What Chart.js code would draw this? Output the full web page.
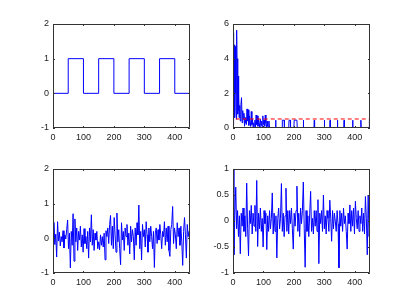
<!DOCTYPE html>
<html lang="en">
<head>
  <meta charset="UTF-8">
  <title>Subplots</title>
  <style>
    body { margin: 0; background: #fff; overflow: hidden; }
    canvas { position: absolute; }
  </style>
</head>
<body>
  <canvas id="waveChart" width="187" height="134" style="left:13px;top:14px"></canvas>
  <canvas id="specChart" width="187" height="134" style="left:193px;top:14px"></canvas>
  <canvas id="noiseChartA" width="187" height="134" style="left:13px;top:159px"></canvas>
  <canvas id="noiseChartB" width="187" height="134" style="left:193px;top:159px"></canvas>
  <script src="https://cdn.jsdelivr.net/npm/chart.js"></script>
  <script>
    // tick labels
    const xTicks = [0, 100, 200, 300, 400];
    const yTicksWave = [-1, 0, 1, 2];
    const yTicksSpec = [0, 2, 4, 6];
    const yTicksNoiseA = [-1, 0, 1, 2];
    const yTicksNoiseB = [-1, -0.5, 0, 0.5, 1];

    // square wave (stepped)
    const waveX = [0, 50, 100, 150, 200, 250, 300, 350, 400, 450];
    const waveY = [0, 1, 0, 1, 0, 1, 0, 1, 0, 0];

    // spectrum + threshold
    const specX = [0, 1, 2, 3, 4, 5, 6, 7, 8, 9, 10, 11, 12, 13, 14, 15, 16, 17, 18, 19,
      20, 22, 24, 26, 28, 30, 32, 34, 36, 38,
      40, 42, 44, 46, 48, 50, 52, 54, 56, 58, 60, 62, 64, 66, 68, 70, 72, 74, 76, 78,
      80, 82, 84, 86, 88, 90, 92, 94, 96, 98, 100, 102, 104, 106, 108, 110, 112, 114, 116, 118,
      120, 140, 140, 141, 161, 162, 168, 169, 183, 184, 188, 189, 200, 201, 210, 211,
      230, 231, 232, 266, 267, 268, 299, 300, 301, 318, 319, 320, 342, 343, 344,
      364, 365, 366, 392, 393, 394, 419, 420, 421, 447, 448, 450];
    const specY = [0.2, 5.5, 0.8, 4.7, 1.5, 4.8, 0.6, 4.7, 2.0, 4.6, 1.0, 4.8, 0.5, 5.65, 2.5, 4.0, 0.8, 3.0, 1.0, 2.0,
      0.6, 1.3, 0.4, 1.35, 1.75, 0.3, 1.0, 0.5, 0.85, 0.1,
      0.6, 0.3, 0.2, 1.1, 0.4, 1.05, 0.15, 0.7, 0.3, 0.1, 0.95, 0.2, 0.5, 0.05, 0.3, 0.1, 0.45, 0.05, 0.75, 0.2,
      0.7, 0.1, 0.55, 0.25, 0.05, 0.5, 0.15, 0.4, 0.05, 0.7, 0.2, 0.45, 0.1, 0.75, 0.3, 0.05, 0.4, 0.1, 0.05, 0.4,
      0, 0, 0.45, 0, 0, 0.45, 0.45, 0, 0, 0.45, 0.45, 0, 0, 0.45, 0.45, 0,
      0, 0.45, 0, 0, 0.45, 0, 0, 0.45, 0, 0, 0.45, 0, 0, 0.45, 0,
      0, 0.45, 0, 0, 0.45, 0, 0, 0.45, 0, 0, 0.45, 0.45];
    const threshX = [9, 450];
    const threshY = [0.52, 0.52];

    // noise signals, one sample every 3 units
    const noiseStep = 3;
    const noiseA = [
      -0.15, 0.46, -0.18, 0.12, -0.54, 0.48, -0.08, 0.18, -0.22, 0.05,
      -0.1, 0.22, -0.28, 0.1, -0.02, 0.25, 0.53, -0.3, 0.15, -0.85,
      0.2, -0.2, 0.71, -0.66, 0.56, -0.1, 0.3, -0.35, 0.2, -0.05,
      0.35, -0.25, 0.1, -0.4, 0.28, -0.15, 0.05, -0.3, 0.2, -0.57,
      0.3, -0.1, 0.68, -0.2, 0.25, -0.35, 0.15, -0.05, 0.2, -0.3,
      -0.1, -0.33, 0.1, -0.2, 0.05, -0.25, 0.15, -0.62, 0.22, 0.05,
      0.3, -0.15, 0.4, 0.66, -0.2, 0.35, -0.3, 0.6, 0.1, -0.4,
      0.73, -0.1, 0.25, -0.3, -0.76, 0.45, -0.05, 0.2, -0.35, 0.3,
      0.05, 0.4, -0.2, 0.15, -0.45, 0.35, -0.1, 0.25, 0.05, -0.62,
      0.3, -0.2, 0.45, 0.1, 0.96, -0.3, 0.2, -0.62, 0.4, 0.05,
      0.25, -0.25, 0.48, 0.1, -0.4, 0.3, -0.1, 0.35, 0.05, -0.3,
      0.2, -0.84, 0.15, 0.3, -0.15, 0.25, -0.05, 0.4, 0.1, -0.3,
      0.2, 0.05, 0.48, -0.2, 0.3, -0.1, 0.35, -0.35, -0.52, 0.25,
      0.4, 0.92, -0.15, 0.3, 0.1, -0.3, 0.45, 0.05, 0.3, -0.2,
      0.35, -0.1, -0.78, 0.2, 0.6, 0.1, -0.57, 0.4, 0.05, 0.2,
      -0.36];
    const noiseB = [
      1.0, -0.65, 0.1, 0.65, -0.15, 0.2, -0.3, 0.1, -0.63, 0.15,
      -0.1, 0.25, -0.2, 0.1, -0.3, 0.73, -0.15, -0.67, 0.2, -0.05,
      0.3, -0.25, 0.15, -0.1, 0.3, -0.2, 0.78, -0.49, 0.15, -0.15,
      0.25, -0.2, 0.05, -0.5, 0.2, -0.05, 0.15, -0.55, 0.1, -0.2,
      0.2, -0.15, 0.05, 0.54, -0.25, 0.15, -0.2, 0.1, -0.71, 0.05,
      0.25, -0.15, 0.05, 0.72, -0.2, 0.15, -0.3, 0.1, 0.63, -0.2,
      0.2, -0.25, 0.2, -0.05, 0.25, -0.15, -0.54, 0.15, -0.1, 0.2,
      0.67, -0.2, 0.15, -0.3, 0.25, -0.05, 0.2, 0.75, -0.15, -0.89,
      0.2, -0.2, 0.1, -0.3, 0.15, 0.57, -0.2, 0.05, -0.25, 0.2,
      -0.1, 0.2, -0.2, 0.41, -0.82, 0.15, -0.05, 0.2, -0.2, 0.5,
      -0.15, 0.1, -0.25, 0.2, 0.05, -0.2, 0.4, 0.05, -0.39, 0.2,
      -0.15, 0.15, 0.0, -0.2, 0.2, -0.05, -0.9, 0.2, -0.1, 0.15,
      -0.2, 0.25, -0.05, 0.1, -0.2, -0.54, 0.15, -0.05, 0.31, -0.2,
      0.2, -0.1, 0.25, -0.25, 0.38, 0.05, -0.15, 0.2, -0.2, 0.1,
      -0.05, 0.25, -0.2, 0.15, -0.25, 0.47, 0.05, -0.65, 0.5, -0.3,
      0.05];

    const font = { family: 'Liberation Sans, Arial, sans-serif', size: 9 };
    const pts = (xs, ys) => ys.map((y, i) => ({ x: xs[i], y: y }));
    const sampled = (ys) => ys.map((y, i) => ({ x: i * noiseStep, y: y }));

    // MATLAB-like box with inward ticks on all four sides
    const boxTicks = {
      id: 'boxTicks',
      afterDatasetsDraw(chart) {
        const { ctx, chartArea: a, scales: { x, y } } = chart;
        ctx.save();
        ctx.strokeStyle = '#333';
        ctx.lineWidth = 1;
        ctx.beginPath();
        ctx.rect(a.left + 0.5, a.top + 0.5, a.right - a.left - 1, a.bottom - a.top - 1);
        x.ticks.forEach(t => {
          const px = Math.round(x.getPixelForValue(t.value)) + 0.5;
          ctx.moveTo(px, a.bottom); ctx.lineTo(px, a.bottom - 2);
          ctx.moveTo(px, a.top); ctx.lineTo(px, a.top + 2);
        });
        y.ticks.forEach(t => {
          const py = Math.round(y.getPixelForValue(t.value)) + 0.5;
          ctx.moveTo(a.left, py); ctx.lineTo(a.left + 2, py);
          ctx.moveTo(a.right, py); ctx.lineTo(a.right - 2, py);
        });
        ctx.stroke();
        ctx.restore();
      }
    };

    function makePanel(id, datasets, yMin, yMax, yTicks) {
      return new Chart(document.getElementById(id), {
        type: 'line',
        data: { datasets: datasets },
        options: {
          responsive: false,
          animation: false,
          devicePixelRatio: 1,
          layout: { padding: { top: 10, right: 10, left: 0, bottom: 0 } },
          plugins: { legend: { display: false }, tooltip: { enabled: false } },
          elements: { point: { radius: 0 }, line: { tension: 0 } },
          scales: {
            x: {
              type: 'linear', min: 0, max: 450,
              grid: { display: false, drawTicks: false }, border: { display: false },
              afterBuildTicks: s => { s.ticks = xTicks.map(v => ({ value: v })); },
              afterFit: s => { s.height = 20; },
              ticks: { padding: 4, maxRotation: 0, autoSkip: false, color: '#222', font: font, callback: v => String(v) }
            },
            y: {
              type: 'linear', min: yMin, max: yMax,
              grid: { display: false, drawTicks: false }, border: { display: false },
              afterBuildTicks: s => { s.ticks = yTicks.map(v => ({ value: v })); },
              afterFit: s => { s.width = 40; },
              ticks: { padding: 4, autoSkip: false, color: '#222', font: font, callback: v => String(v) }
            }
          }
        },
        plugins: [boxTicks]
      });
    }

    const blue = { borderColor: '#0000ff', borderWidth: 1, fill: false, order: 1 };

    makePanel('waveChart', [
      Object.assign({ data: pts(waveX, waveY), stepped: 'before' }, blue)
    ], -1, 2, yTicksWave);

    makePanel('specChart', [
      Object.assign({ data: pts(specX, specY) }, blue),
      { data: pts(threshX, threshY), borderColor: '#ff0000', borderWidth: 1, borderDash: [4, 3], fill: false, order: 0 }
    ], 0, 6, yTicksSpec);

    makePanel('noiseChartA', [
      Object.assign({ data: sampled(noiseA) }, blue)
    ], -1, 2, yTicksNoiseA);

    makePanel('noiseChartB', [
      Object.assign({ data: sampled(noiseB) }, blue)
    ], -1, 1, yTicksNoiseB);
  </script>
</body>
</html>
